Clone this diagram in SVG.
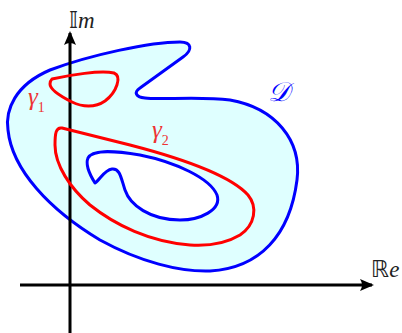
<svg xmlns="http://www.w3.org/2000/svg" width="402" height="333" viewBox="0 0 402 333">
<style>
.blue{fill:none;stroke:#0000ff;stroke-width:3;stroke-linejoin:round}
.red{fill:none;stroke:#ff0000;stroke-width:3;stroke-linejoin:round}
.axis{stroke:#000;stroke-width:3;fill:none}
.lab{font-family:"Liberation Serif","DejaVu Serif",serif;font-style:italic}
.ds{font-family:"DejaVu Sans","Noto Sans",sans-serif;font-style:normal}
.g{fill:#ee3333}
</style>
<defs>
<marker id="arr" viewBox="0 0 14 12" refX="12" refY="6" markerWidth="14" markerHeight="12" markerUnits="userSpaceOnUse" orient="auto">
<path d="M0,0 L14,6 L0,12 Q4,6 0,0 Z" fill="#000"/>
</marker>
</defs>
<g id="region-D">
<path d="M140,88 L183,57 C193,50 192,42 180,42 C150,42 90,55 50,70 C15,85 5,110 8,130 C12,170 50,210 100,240 C140,262 180,272 210,271 C260,268 290,235 297,180 C302,140 275,108 230,100 C200,96 160,100 145,98 C135,97 134,92 140,88 Z" class="blue" style="fill:#dfffff"/>
<path d="M95,183 C90,175 85,165 88,158 C92,150 110,150 140,155 C175,162 210,178 217,195 C222,210 200,220 180,220 C150,220 130,205 125,190 C121,178 120,168 112,169 C104,170 100,180 95,183 Z" class="blue" style="fill:#fff"/>
</g>
<g id="connectors">
<line x1="70" y1="333" x2="70" y2="33" class="axis" marker-end="url(#arr)"/>
<line x1="20" y1="285" x2="372" y2="285" class="axis" marker-end="url(#arr)"/>
</g>
<g id="gamma1">
<path d="M52,79 C70,75 100,70 114,73 C122,76 117,92 105,101 C95,108 82,107 72,102 C62,97 50,90 50,84 C50,81 51,80 52,79 Z" class="red"/>
</g>
<g id="gamma2">
<path d="M62,128 L130,145 C180,158 230,175 248,195 C258,207 255,225 240,235 C225,244 205,246 190,245 C150,242 115,225 90,205 C70,188 55,165 55,145 C55,133 56,127 62,128 Z" class="red"/>
</g>
<g id="labels">
<text x="69" y="28" font-size="23" class="lab" fill="#222"><tspan class="ds">𝕀</tspan>m</text>
<text x="371" y="277" font-size="23" class="lab" fill="#222"><tspan class="ds">ℝ</tspan>e</text>
<text x="28" y="105" font-size="25" class="lab g">γ<tspan font-size="14" font-style="normal" dy="7">1</tspan></text>
<text x="152" y="138" font-size="25" class="lab g">γ<tspan font-size="14" font-style="normal" dy="7">2</tspan></text>
<text x="268" y="101" font-size="27" class="lab" fill="#0000ff">𝒟</text>
</g>
</svg>
